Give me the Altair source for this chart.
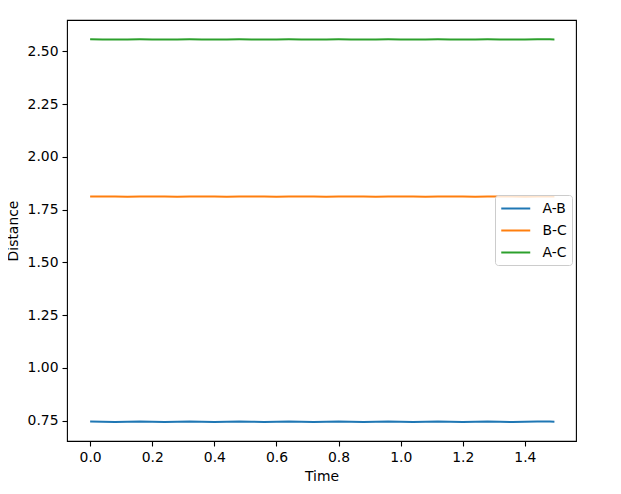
import altair as alt
import pandas as pd

times = [0.00, 0.04, 0.08, 0.12, 0.16, 0.20, 0.24, 0.28, 0.32, 0.36,
         0.40, 0.44, 0.48, 0.52, 0.56, 0.60, 0.64, 0.68, 0.72, 0.76,
         0.80, 0.84, 0.88, 0.92, 0.96, 1.00, 1.04, 1.08, 1.12, 1.16,
         1.20, 1.24, 1.28, 1.32, 1.36, 1.40, 1.44, 1.48, 1.495]

ab = [0.7460, 0.7450, 0.7437, 0.7450, 0.7463, 0.7450, 0.7437, 0.7450, 0.7463, 0.7450,
      0.7437, 0.7450, 0.7463, 0.7450, 0.7437, 0.7450, 0.7463, 0.7450, 0.7437, 0.7450,
      0.7463, 0.7450, 0.7437, 0.7450, 0.7463, 0.7450, 0.7437, 0.7450, 0.7463, 0.7450,
      0.7437, 0.7450, 0.7463, 0.7450, 0.7437, 0.7450, 0.7463, 0.7455, 0.7445]

bc = [1.8122, 1.8125, 1.8120, 1.8116, 1.8120, 1.8124, 1.8120, 1.8116, 1.8120, 1.8124,
      1.8120, 1.8116, 1.8120, 1.8124, 1.8120, 1.8116, 1.8120, 1.8124, 1.8120, 1.8116,
      1.8120, 1.8124, 1.8120, 1.8116, 1.8120, 1.8124, 1.8120, 1.8116, 1.8120, 1.8124,
      1.8120, 1.8116, 1.8120, 1.8124, 1.8120, 1.8116, 1.8120, 1.8122, 1.8121]

ac = [2.5575, 2.5570, 2.5566, 2.5570, 2.5575, 2.5570, 2.5566, 2.5570, 2.5575, 2.5570,
      2.5566, 2.5570, 2.5575, 2.5570, 2.5566, 2.5570, 2.5575, 2.5570, 2.5566, 2.5570,
      2.5575, 2.5570, 2.5566, 2.5570, 2.5575, 2.5570, 2.5566, 2.5570, 2.5575, 2.5570,
      2.5566, 2.5570, 2.5575, 2.5570, 2.5566, 2.5570, 2.5575, 2.5572, 2.5570]

series_names = ["A-B", "B-C", "A-C"]
series_colors = ["#1f77b4", "#ff7f0e", "#2ca02c"]
x_ticks = [0.0, 0.2, 0.4, 0.6, 0.8, 1.0, 1.2, 1.4]
y_ticks = [0.75, 1.00, 1.25, 1.50, 1.75, 2.00, 2.25, 2.50]

rows = []
for name, vals in zip(series_names, [ab, bc, ac]):
    for t, v in zip(times, vals):
        rows.append({"Time": t, "Distance": v, "Pair": name, "order": series_names.index(name)})
df = pd.DataFrame(rows)

FONT = "DejaVu Sans"
FS = 13.9

chart = alt.Chart(df).mark_line(strokeWidth=2).encode(
    x=alt.X("Time:Q",
            scale=alt.Scale(domain=[-0.0745, 1.5645], nice=False, zero=False),
            axis=alt.Axis(values=x_ticks, format=".1f", title="Time",
                          titlePadding=6, labelPadding=4)),
    y=alt.Y("Distance:Q",
            scale=alt.Scale(domain=[0.6536, 2.649], nice=False, zero=False),
            axis=alt.Axis(values=y_ticks, format=".2f", title="Distance",
                          titlePadding=7, labelPadding=4)),
    color=alt.Color("Pair:N",
                    scale=alt.Scale(domain=series_names, range=series_colors),
                    legend=alt.Legend(title=None, orient="none", legendX=428, legendY=175,
                                      symbolType="M-1,0L3,0", symbolSize=210,
                                      symbolStrokeWidth=2, labelOffset=25.5,
                                      rowPadding=6, padding=5,
                                      fillColor="rgba(255,255,255,0.8)",
                                      strokeColor="#cccccc", cornerRadius=3,
                                      labelFont=FONT, labelFontSize=FS, labelColor="black")),
    detail="Pair:N",
    order="order:Q",
).properties(
    width=509, height=421,
    autosize=alt.AutoSizeParams(type="none"),
    padding={"left": 59, "top": 12, "right": 30, "bottom": 50},
).configure_view(
    stroke="black", strokeWidth=1.1
).configure_axis(
    grid=False, domain=False,
    tickColor="black", tickSize=5, tickWidth=1.1,
    labelFont=FONT, labelFontSize=FS, labelColor="black",
    titleFont=FONT, titleFontSize=FS, titleColor="black", titleFontWeight="normal",
)

chart.save("out.html", embed_options={"renderer": "svg", "actions": False})
